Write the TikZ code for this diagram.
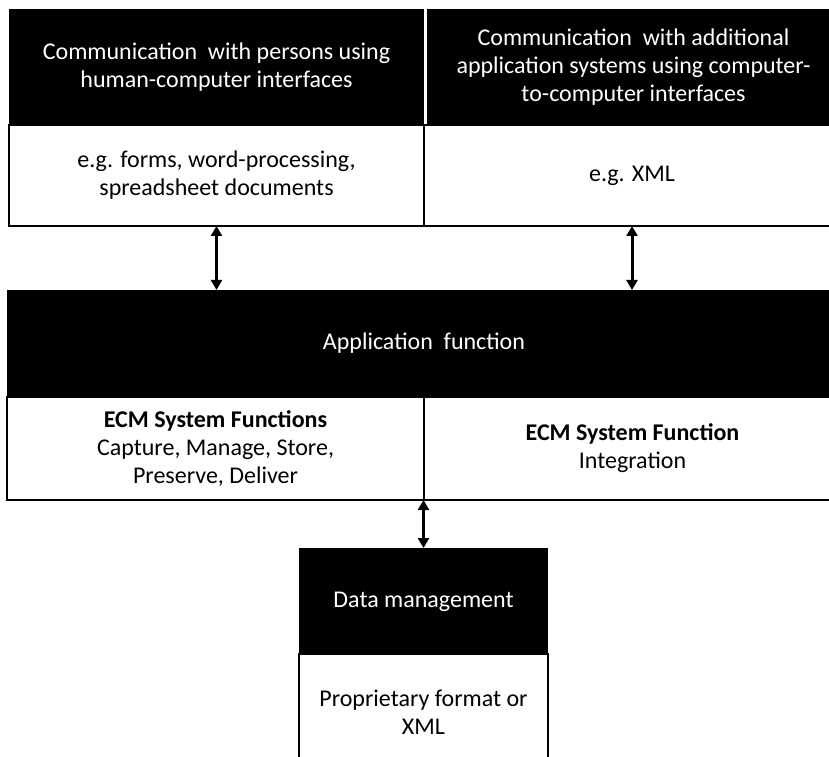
\documentclass[tikz,border=0pt]{standalone}
\usepackage{fontspec}
\setmainfont{Carlito}
\usetikzlibrary{positioning,arrows.meta}

\begin{document}
\begin{tikzpicture}[x=1pt,y=1pt,
    every node/.style={font=\fontsize{24}{28}\selectfont,align=center,inner sep=0pt,outer sep=0pt},
    head/.style={fill=black,text=white,anchor=north west},
    body/.style={draw=black,line width=2pt,fill=white,anchor=north west},
    link/.style={line width=3pt,{Triangle[width=11pt,length=10pt]}-{Triangle[width=11pt,length=10pt]}}]
    \useasboundingbox (0,0) rectangle (829,756);
    % interfaces
    \node[body,minimum width=415,minimum height=101] (lbody) at (9,631)
        {e.g. forms, word-processing,\\spreadsheet documents};
    \node[body,minimum width=416,minimum height=101] (rbody) at (424,631) {e.g. XML};
    \node[head,minimum width=415,minimum height=116] (lhead) at (9,747)
        {Communication\ \ with persons using\\human-computer interfaces};
    \node[head,minimum width=413,minimum height=116] (rhead) at (427,747)
        {Communication\ \ with additional\\application systems using computer-\\to-computer interfaces};
    % application layer
    \node[head,minimum width=834,minimum height=107] (app) at (7,466) {Application\ \ function};
    \node[body,minimum width=417,minimum height=103] (capture) at (7,359)
        {\textbf{ECM System Functions}\\Capture, Manage, Store,\\Preserve, Deliver};
    \node[body,minimum width=417,minimum height=103] (integr) at (424,359)
        {\textbf{ECM System Function}\\Integration};
    % storage
    \node[body,minimum width=249,minimum height=116] (store) at (299,102)
        {Proprietary format or\\XML};
    \node[head,minimum width=249,minimum height=107] (data) at (299,208) {Data management};
    \draw[link] (lbody.south) -- (lbody.south |- app.north);
    \draw[link] (rbody.south) -- (rbody.south |- app.north);
    \draw[link] (data.north) -- (data.north |- capture.south);
\end{tikzpicture}
\end{document}
